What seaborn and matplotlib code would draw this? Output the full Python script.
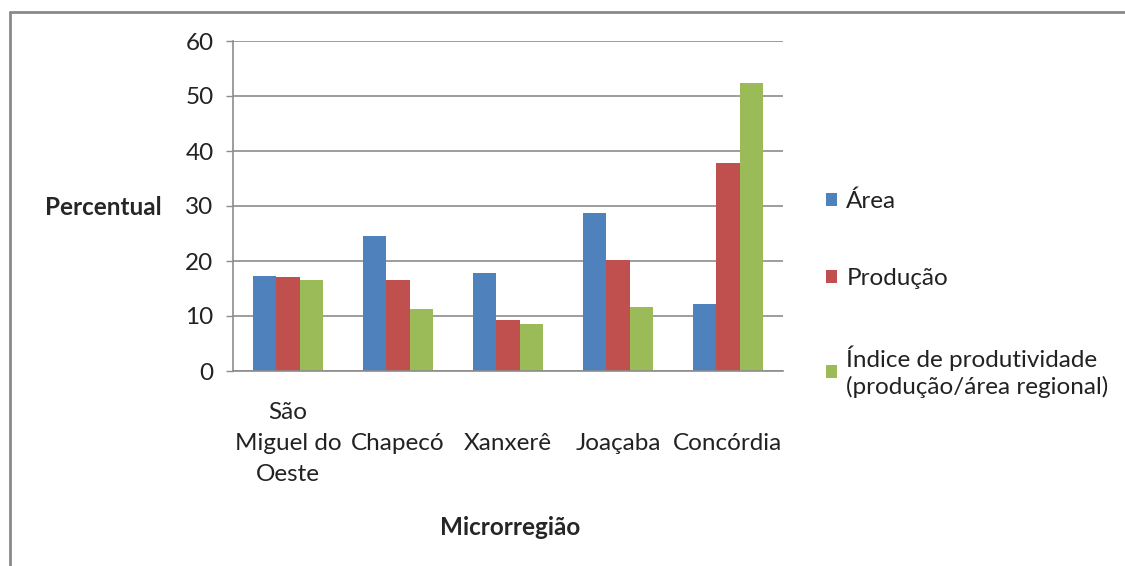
import matplotlib
matplotlib.use("Agg")
import matplotlib.pyplot as plt
from matplotlib.lines import Line2D
import seaborn as sns
import pandas as pd
import numpy as np

# Microrregiões e séries (%)
regioes = ["São\nMiguel do\nOeste", "Chapecó", "Xanxerê", "Joaçaba", "Concórdia"]
area = [17.3, 24.6, 17.8, 28.8, 12.1]
producao = [17.1, 16.5, 9.2, 20.1, 37.8]
indice = [16.5, 11.2, 8.5, 11.7, 52.4]
series = ["Área", "Produção", "Índice de produtividade\n(produção/área regional)"]
cores = ["#4F81BD", "#C0504D", "#9BBB59"]
yticks = [0, 10, 20, 30, 40, 50, 60]

df = pd.DataFrame({
    "regiao": regioes * 3,
    "serie": [series[0]] * 5 + [series[1]] * 5 + [series[2]] * 5,
    "valor": area + producao + indice,
})

sns.set_style("white")
plt.rcParams["font.family"] = ["Lato", "DejaVu Sans"]
FS = 17.5

fig = plt.figure(figsize=(11.25, 5.66), dpi=100)
ax = fig.add_axes([233 / 1125, 1 - 371 / 566, 550 / 1125, 330 / 566])

sns.barplot(data=df, x="regiao", y="valor", hue="serie", palette=cores,
            order=regioes, hue_order=series, width=0.64, saturation=1,
            edgecolor="none", ax=ax)

ax.set_xlim(-0.5, 4.5)
ax.set_ylim(0, 60)
ax.set_yticks(yticks)
ax.set_yticklabels([str(v) for v in yticks], fontsize=FS, color="#222222")
ax.yaxis.grid(True, color="#8c8c8c", linewidth=1.2)
ax.set_axisbelow(True)

# category labels centred in each band, boundary ticks below the axis
ax.set_xticks(range(len(regioes)))
ax.set_xticklabels(regioes, fontsize=FS, color="#222222", va="center",
                   linespacing=1.6)
ax.set_xticks(np.arange(-0.5, 5.0, 1.0), minor=True)
ax.tick_params(axis="x", which="major", length=0, pad=52)
ax.tick_params(axis="x", which="minor", length=5, width=1, color="#8c8c8c",
               direction="out")
ax.tick_params(axis="y", which="major", length=5, width=1, color="#8c8c8c",
               direction="out", pad=9, left=True)

for side in ["top", "right"]:
    ax.spines[side].set_visible(False)
for side in ["left", "bottom"]:
    ax.spines[side].set_color("#8c8c8c")
    ax.spines[side].set_linewidth(1.2)

ax.set_ylabel("Percentual", rotation=0, fontsize=FS, fontweight="bold",
              ha="center", va="center")
ax.yaxis.set_label_coords(-0.236, 0.494)
ax.set_xlabel("Microrregião", fontsize=FS, fontweight="bold",
              ha="center", va="center")
ax.xaxis.set_label_coords(0.504, -0.473)

handles, labels = ax.get_legend_handles_labels()
leg = ax.legend(handles, labels, loc="upper left", bbox_to_anchor=(1.06, 0.575),
                frameon=False, fontsize=FS, handlelength=0.45, handleheight=0.45,
                handletextpad=0.4, labelspacing=2.3, borderaxespad=0)
for t in leg.get_texts():
    t.set_color("#222222")
    t.set_linespacing(1.3)

# outer chart frame
frame = dict(color="#8a8a8a", linewidth=2.0, transform=fig.transFigure)
fig.add_artist(Line2D([10 / 1125, 1.0], [1 - 12 / 566, 1 - 12 / 566], **frame))
fig.add_artist(Line2D([10 / 1125, 10 / 1125], [0, 1 - 12 / 566], **frame))

fig.savefig("out.png", dpi=100)
